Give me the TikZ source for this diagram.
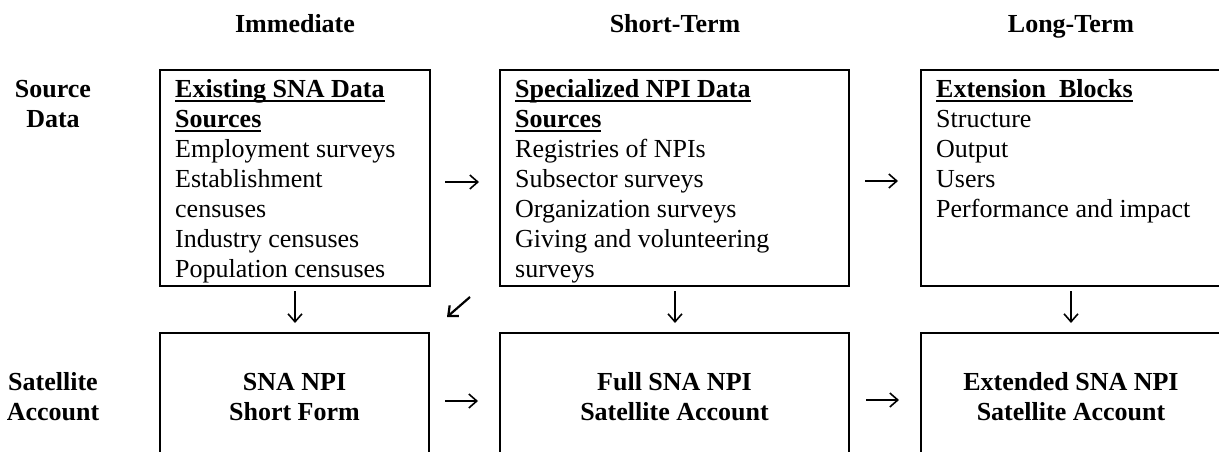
\documentclass[tikz,border=0pt]{standalone}
\usepackage{fontspec}
\setmainfont{Liberation Serif}
\usetikzlibrary{arrows.meta,calc}
\newsavebox\ulbox
\newcommand\myul[1]{\sbox\ulbox{#1}\rlap{\rule[-5pt]{\wd\ulbox}{2pt}}\usebox\ulbox}
\begin{document}
\begin{tikzpicture}[x=1pt,y=-1pt,
  box/.style={draw, line width=1.8pt, inner sep=0pt, outer sep=0pt, anchor=north west},
  txt/.style={inner sep=0pt, font=\fontsize{26}{30}\selectfont},
  hdr/.style={inner sep=0pt, font=\fontsize{26}{30}\selectfont\bfseries},
  arr/.style={line width=1.6pt, -{Straight Barb[length=8pt,width=14pt]}}]
\useasboundingbox (0,0) rectangle (1219,452);
\clip (0,0) rectangle (1219,452);
% headers
\node[hdr, anchor=base] (h1) at (295,33) {Immediate};
\node[hdr, anchor=base] (h2) at (675,33) {Short-Term};
\node[hdr, anchor=base] (h3) at (1071,33) {Long-Term};
% row labels
\node[hdr, anchor=north, align=center] (l1) at (53,76) {\strut Source\\Data};
\node[hdr, anchor=north, align=center] (l2) at (53,369) {\strut Satellite\\Account};
% boxes
\node[box, minimum width=270pt, minimum height=216pt] (b1) at (160,70) {};
\node[box, minimum width=349pt, minimum height=216pt] (b2) at (500,70) {};
\node[box, minimum width=330pt, minimum height=216pt] (b3) at (921,70) {};
\node[box, minimum width=269pt, minimum height=160pt] (b4) at (160,333) {};
\node[box, minimum width=349pt, minimum height=160pt] (b5) at (500,333) {};
\node[box, minimum width=330pt, minimum height=160pt] (b6) at (921,333) {};
% box texts
\node[txt, anchor=north west, align=left] (t1) at (175,76)
  {\strut\myul{\textbf{Existing SNA Data}}\\\myul{\textbf{Sources}}\\Employment surveys\\Establishment\\censuses\\Industry censuses\\Population censuses};
\node[txt, anchor=north west, align=left] (t2) at (515,76)
  {\strut\myul{\textbf{Specialized NPI Data}}\\\myul{\textbf{Sources}}\\Registries of NPIs\\Subsector surveys\\Organization surveys\\Giving and volunteering\\surveys};
\node[txt, anchor=north west, align=left] (t3) at (936,76)
  {\strut\myul{\textbf{Extension\ \ Blocks}}\\Structure\\Output\\Users\\Performance and impact};
\node[hdr, anchor=north, align=center] (t4) at (294.5,369) {\strut SNA NPI\\Short Form};
\node[hdr, anchor=north, align=center] (t5) at (674.5,369) {\strut Full SNA NPI\\Satellite Account};
\node[hdr, anchor=north, align=center] (t6) at (1071,369) {\strut Extended SNA NPI\\Satellite Account};
% arrows
\draw[arr, shorten <=15pt, shorten >=21pt] (b1.east |- 0,182) -- (b2.west |- 0,182);
\draw[arr, shorten <=16pt, shorten >=23pt] (b2.east |- 0,181) -- (b3.west |- 0,181);
\draw[arr, shorten <=16pt, shorten >=22pt] (b4.east |- 0,401) -- (b5.west |- 0,401);
\draw[arr, shorten <=17pt, shorten >=22pt] (b5.east |- 0,400) -- (b6.west |- 0,400);
\draw[arr, shorten <=5pt, shorten >=10pt] (b1.south -| h1) -- (b4.north -| h1);
\draw[arr, shorten <=5pt, shorten >=10pt] (b2.south -| h2) -- (b5.north -| h2);
\draw[arr, shorten <=5pt, shorten >=10pt] (b3.south -| h3) -- (b6.north -| h3);
\draw[arr, line width=2.2pt] ($(b2.south west)+(-30,11)$) -- ($(b4.north east)+(18,-16)$);
\end{tikzpicture}
\end{document}
